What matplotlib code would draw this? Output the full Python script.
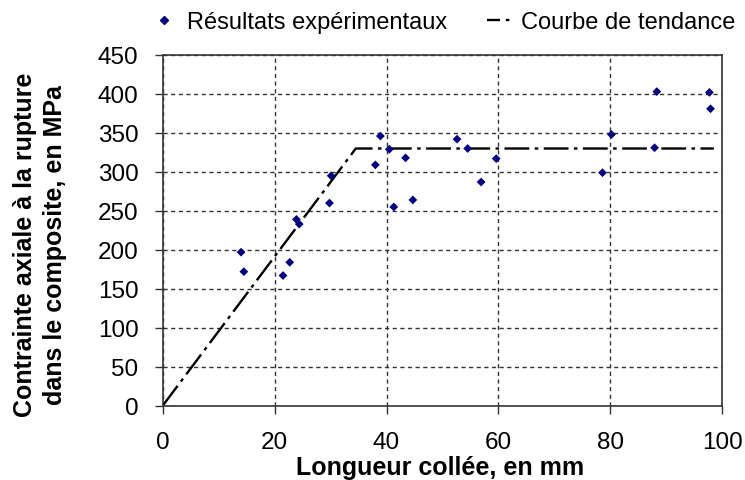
import matplotlib
matplotlib.use("Agg")
import matplotlib.pyplot as plt
from matplotlib.lines import Line2D

plt.rcParams['font.family'] = ['Liberation Sans', 'DejaVu Sans']

# Experimental data (bonded length in mm, axial stress at rupture in MPa)
longueur = [14.0, 14.5, 21.5, 22.7, 23.9, 24.4, 29.8, 30.1,
            38.0, 38.9, 40.5, 41.3, 43.4, 44.7, 52.6, 54.5,
            56.9, 59.6, 78.6, 80.2, 87.9, 88.3, 97.7, 97.9]
contrainte = [197, 172, 167, 184, 239, 233, 260, 295,
              309, 346, 329, 255, 318, 264, 342, 330,
              287, 317, 299, 348, 331, 403, 402, 381]

# Trend curve (bilinear)
tendance_x = [0, 34.5, 98.5]
tendance_y = [0, 330, 330]

xticks = [0, 20, 40, 60, 80, 100]
yticks = [0, 50, 100, 150, 200, 250, 300, 350, 400, 450]

fig = plt.figure(figsize=(7.45, 4.81), dpi=100)
ax = fig.add_axes([0.2184, 0.1545, 0.9695 - 0.2184, 0.8836 - 0.1545])

ax.scatter(longueur, contrainte, marker='D', s=20, color='#000080',
           edgecolors='none', zorder=3, label='Résultats expérimentaux')
ax.plot(tendance_x, tendance_y, color='black', lw=1.7,
        dashes=(10.5, 2.3, 1.5, 2.3), zorder=2, label='Courbe de tendance')

ax.set_xlim(0, 100)
ax.set_ylim(0, 450)
ax.set_xticks(xticks)
ax.set_yticks(yticks)
ax.grid(True, color='#333333', linestyle=(0, (3, 2.5)), linewidth=1.0)
ax.set_axisbelow(True)
for s in ax.spines.values():
    s.set_color('#333333')
    s.set_linewidth(1.2)
ax.tick_params(axis='both', direction='out', length=6, width=1,
               color='#333333', labelsize=17.5)
ax.tick_params(axis='y', pad=11.5)
ax.tick_params(axis='x', pad=12.5)

ax.set_xlabel('Longueur collée, en mm', fontsize=18, fontweight='bold')
ax.xaxis.set_label_coords(0.495, -0.142)
fig.text(40 / 745, 1 - 245 / 481,
         'Contrainte axiale à la rupture\ndans le composite, en MPa',
         rotation=90, ha='center', va='center', multialignment='center',
         fontsize=18, fontweight='bold', linespacing=1.3)

handles = [Line2D([], [], marker='D', markersize=4, color='#000080', lw=0),
           Line2D([], [], color='black', lw=1.7, dashes=(5.5, 2.5, 1.5, 10))]
fig.legend(handles, ['Résultats expérimentaux', 'Courbe de tendance'],
           loc='center', bbox_to_anchor=(444 / 745, 1 - 23 / 481), ncol=2,
           frameon=False, fontsize=17, handlelength=1.0, columnspacing=1.7,
           handletextpad=0.45, borderpad=0.1, borderaxespad=0)

fig.savefig('out.png', dpi=100)
